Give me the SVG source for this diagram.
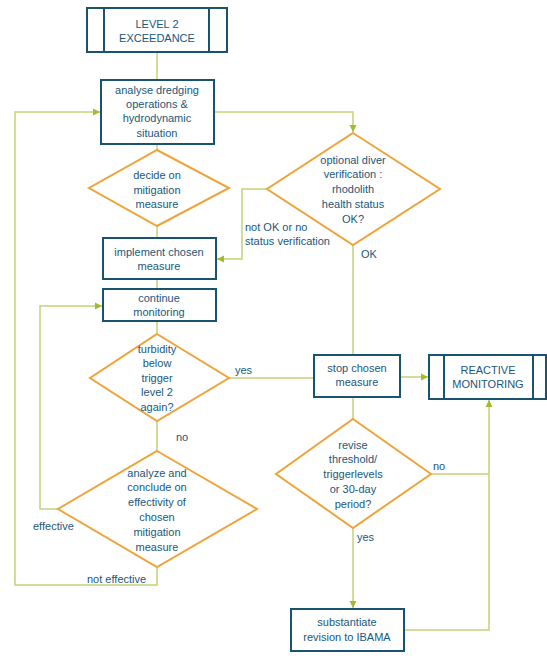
<svg xmlns="http://www.w3.org/2000/svg" width="547" height="659" viewBox="0 0 547 659">
<style>
.box{fill:#fff;stroke:#1a5370;stroke-width:2}
.dia{fill:#fff;stroke:#eea43a;stroke-width:2}
.con{fill:none;stroke:#c3d27a;stroke-width:1.5}
text{font-family:"Liberation Sans",Arial,sans-serif;font-size:11px;fill:#21577a;text-anchor:middle}
.lbl{text-anchor:start}
</style>
<defs>
<marker id="arr" markerWidth="8" markerHeight="8" refX="7" refY="4" orient="auto" markerUnits="userSpaceOnUse">
<path d="M0,0.5 L7,4 L0,7.5 Z" fill="#9fbb2e"/>
</marker>
</defs>
<rect width="547" height="659" fill="#fff"/>
<g id="connectors">
<path class="con" d="M157,52 V80"/>
<path class="con" d="M214,112 H353 V132" marker-end="url(#arr)"/>
<path class="con" d="M157,144 V150"/>
<path class="con" d="M157,226 V238"/>
<path class="con" d="M267,189 H242 V259 H217" marker-end="url(#arr)"/>
<path class="con" d="M353,245 V355"/>
<path class="con" d="M157,279 V289"/>
<path class="con" d="M157,321 V334"/>
<path class="con" d="M229,378 H314"/>
<path class="con" d="M157,421 V451"/>
<path class="con" d="M58,509 H40 V306 H102" marker-end="url(#arr)"/>
<path class="con" d="M157,567 V585 H15 V112 H100" marker-end="url(#arr)"/>
<path class="con" d="M400,377 H428" marker-end="url(#arr)"/>
<path class="con" d="M353,397 V419"/>
<path class="con" d="M431,474 H489"/>
<path class="con" d="M404,630 H489 V400" marker-end="url(#arr)"/>
<path class="con" d="M353,528 V608" marker-end="url(#arr)"/>
</g>
<g id="level2">
<rect class="box" x="87" y="8" width="140" height="44"/>
<path class="box" d="M104,8 V52 M209,8 V52"/>
<text x="157" y="28">LEVEL 2</text>
<text x="157" y="42">EXCEEDANCE</text>
</g>
<g id="analyse">
<rect class="box" x="101" y="80" width="113" height="64"/>
<text x="157" y="94">analyse dredging</text>
<text x="157" y="108">operations &amp;</text>
<text x="157" y="122">hydrodynamic</text>
<text x="157" y="137">situation</text>
</g>
<g id="decide">
<polygon class="dia" points="157,150 229,188 157,226 89,188"/>
<text x="157" y="179">decide on</text>
<text x="157" y="194">mitigation</text>
<text x="157" y="208">measure</text>
</g>
<g id="diver">
<polygon class="dia" points="353,133 440,189 353,245 267,189"/>
<text x="353" y="164">optional diver</text>
<text x="353" y="178">verification :</text>
<text x="353" y="193">rhodolith</text>
<text x="353" y="208">health status</text>
<text x="353" y="223">OK?</text>
</g>
<g id="implement">
<rect class="box" x="103" y="238" width="113" height="41"/>
<text x="159" y="256">implement chosen</text>
<text x="159" y="270">measure</text>
</g>
<g id="continue">
<rect class="box" x="103" y="289" width="113" height="32"/>
<text x="159" y="302">continue</text>
<text x="159" y="316">monitoring</text>
</g>
<g id="turbidity">
<polygon class="dia" points="157,334 229,378 157,421 90,378"/>
<text x="157" y="353">turbidity</text>
<text x="157" y="367">below</text>
<text x="157" y="382">trigger</text>
<text x="157" y="396">level 2</text>
<text x="157" y="411">again?</text>
</g>
<g id="analyze">
<polygon class="dia" points="157,451 257,509 157,567 58,509"/>
<text x="157" y="477">analyze and</text>
<text x="157" y="491">conclude on</text>
<text x="157" y="506">effectivity of</text>
<text x="157" y="521">chosen</text>
<text x="157" y="536">mitigation</text>
<text x="157" y="551">measure</text>
</g>
<g id="stop">
<rect class="box" x="314" y="355" width="86" height="42"/>
<text x="357" y="372">stop chosen</text>
<text x="357" y="386">measure</text>
</g>
<g id="reactive">
<rect class="box" x="429" y="355" width="117" height="44"/>
<path class="box" d="M444,355 V399 M533,355 V399"/>
<text x="488" y="374">REACTIVE</text>
<text x="488" y="388">MONITORING</text>
</g>
<g id="revise">
<polygon class="dia" points="353,419 431,474 353,528 276,474"/>
<text x="353" y="449">revise</text>
<text x="353" y="463">threshold/</text>
<text x="353" y="478">triggerlevels</text>
<text x="353" y="493">or 30-day</text>
<text x="353" y="508">period?</text>
</g>
<g id="substantiate">
<rect class="box" x="291" y="609" width="113" height="42"/>
<text x="347" y="626">substantiate</text>
<text x="347" y="641">revision to IBAMA</text>
</g>
<g id="labels">
<text class="lbl" x="245" y="231">not OK or no</text>
<text class="lbl" x="245" y="245">status verification</text>
<text class="lbl" x="361" y="258">OK</text>
<text class="lbl" x="235" y="374">yes</text>
<text class="lbl" x="176" y="441">no</text>
<text class="lbl" x="33" y="530">effective</text>
<text class="lbl" x="87" y="583">not effective</text>
<text class="lbl" x="433" y="470">no</text>
<text class="lbl" x="357" y="541">yes</text>
</g>
</svg>
